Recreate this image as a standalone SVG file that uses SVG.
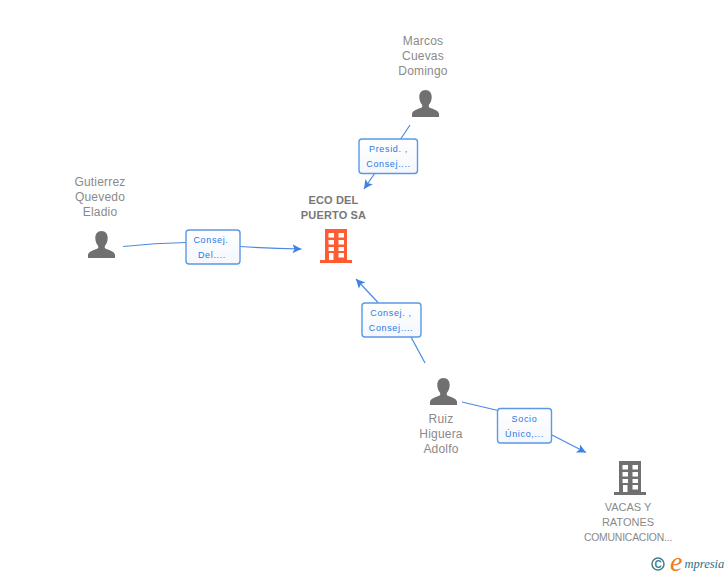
<svg xmlns="http://www.w3.org/2000/svg" width="728" height="575" viewBox="0 0 728 575">
<style>
text{font-family:"Liberation Sans",Arial,sans-serif}
.n{font-size:12px;fill:#8a8a8a;text-anchor:middle;letter-spacing:.2px}
.v{font-size:11px;fill:#8a8a8a;text-anchor:middle}
.t{font-size:11px;fill:#777;text-anchor:middle;font-weight:bold;letter-spacing:.15px}
.l{font-size:9px;fill:#2a78e4;text-anchor:middle;letter-spacing:.65px}
.b{fill:url(#g);stroke:#5b98e6;stroke-width:1.4}
.e{fill:none;stroke:#4a8ae2;stroke-width:1.2}
.p{fill:#707070}
</style>
<defs>
<marker id="a" markerUnits="userSpaceOnUse" markerWidth="12" markerHeight="12" refX="9" refY="5" orient="auto"><path d="M0 0.500L9 5L0 9.500L2 5Z" fill="#3d84e2"/></marker>
<linearGradient id="g" x1="0" y1="0" x2="0" y2="1"><stop offset="0" stop-color="#fff"/><stop offset="1" stop-color="#f4f7fc"/></linearGradient>
<path id="person" d="M13.500 0C9.400 0 7.300 3 7.300 7C7.300 10.500 8.700 13.200 10.200 15L10.200 17C8 18.800 1.200 19.500 0 23.500L0 27H27L27 23.500C25.800 19.500 19 18.800 16.800 17L16.800 15C18.300 13.200 19.700 10.500 19.700 7C19.700 3 17.600 0 13.500 0Z"/>
<path id="building" fill-rule="evenodd" d="M5 0H27V31H32V34H0V31H5ZM8.500 4V8.500H14V4ZM18.500 4V8.500H24V4ZM8.500 11V15.500H14V11ZM18.500 11V15.500H24V11ZM8.500 18V22H14V18ZM18.500 18V22H24V18ZM9 24V31H13.500V24ZM18.500 24V28.500H24V24Z"/>
</defs>
<g id="connectors">
<path class="e" d="M410 125L398 143M375 173L364 189" marker-end="url(#a)"/>
<path class="e" d="M123 246.500Q155 243 186 242.500"/>
<path class="e" d="M240 246.500Q270 248.500 301.500 249" marker-end="url(#a)"/>
<path class="e" d="M425 363L411 337"/>
<path class="e" d="M378 302.500L356 279" marker-end="url(#a)"/>
<path class="e" d="M462 402L498 410.500"/>
<path class="e" d="M552 435L586 452.500" marker-end="url(#a)"/>
</g>
<g id="node-eco">
<use href="#building" x="320" y="229" fill="#ff5c33"/>
<text class="t" x="333.500" y="204">ECO DEL</text>
<text class="t" x="333.500" y="219">PUERTO SA</text>
</g>
<g id="node-marcos">
<use href="#person" x="412" y="90" class="p"/>
<text class="n" x="423" y="45">Marcos</text>
<text class="n" x="423" y="60">Cuevas</text>
<text class="n" x="423" y="75">Domingo</text>
</g>
<g id="node-gutierrez">
<use href="#person" x="88" y="231" class="p"/>
<text class="n" x="100" y="186">Gutierrez</text>
<text class="n" x="100" y="201">Quevedo</text>
<text class="n" x="100" y="216">Eladio</text>
</g>
<g id="node-ruiz">
<use href="#person" x="430" y="378" class="p"/>
<text class="n" x="441" y="423">Ruiz</text>
<text class="n" x="441" y="438">Higuera</text>
<text class="n" x="441" y="453">Adolfo</text>
</g>
<g id="node-vacas">
<use href="#building" x="614" y="461" class="p"/>
<text class="v" x="628" y="511">VACAS Y</text>
<text class="v" x="628" y="526">RATONES</text>
<text class="v" x="628" y="541" style="font-size:10.400px;letter-spacing:-.2px">COMUNICACION...</text>
</g>
<g id="label-presid">
<rect class="b" x="359" y="139" width="58.500" height="34.500" rx="3"/>
<text class="l" x="388.500" y="152">Presid. ,</text>
<text class="l" x="388.500" y="167">Consej....</text>
</g>
<g id="label-consej-del">
<rect class="b" x="186" y="230" width="54" height="34" rx="3"/>
<text class="l" x="211" y="243">Consej.</text>
<text class="l" x="212" y="258">Del....</text>
</g>
<g id="label-consej">
<rect class="b" x="362" y="303" width="59" height="34" rx="3"/>
<text class="l" x="391" y="316">Consej. ,</text>
<text class="l" x="391" y="331">Consej....</text>
</g>
<g id="label-socio">
<rect class="b" x="497.500" y="408.500" width="54" height="34.500" rx="3"/>
<text class="l" x="524.500" y="422">Socio</text>
<text class="l" x="524.500" y="437">Único,...</text>
</g>
<g id="logo">
<circle cx="658" cy="564" r="6" fill="none" stroke="#3f7f8c" stroke-width="1.500"/>
<text x="658" y="568" font-size="10" font-weight="bold" fill="#3f7f8c" text-anchor="middle">C</text>
<text x="670" y="570.500" font-size="28" font-style="italic" fill="#f47a20" style="font-family:'Liberation Serif',serif">e</text>
<text x="684.500" y="568" font-size="12.500" font-style="italic" fill="#2f6f80" style="font-family:'Liberation Serif',serif">mpresia</text>
</g>
</svg>
